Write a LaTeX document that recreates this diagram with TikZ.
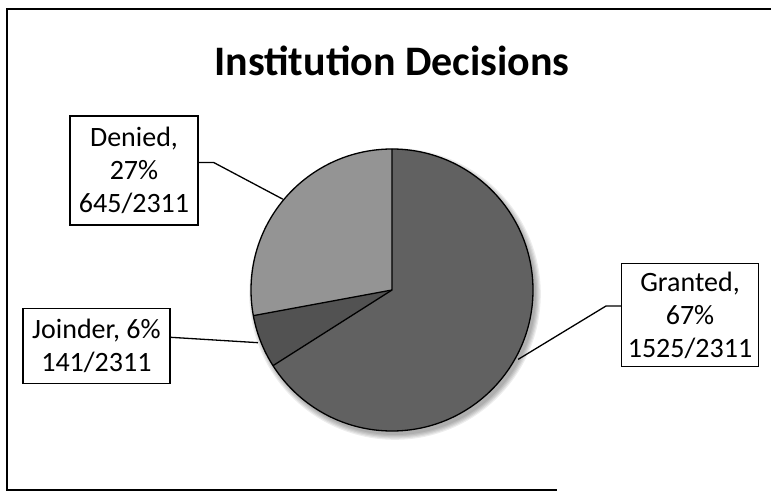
\documentclass[tikz,border=0pt]{standalone}
\usepackage{fontspec}
\setmainfont{Carlito}
\usetikzlibrary{calc}
\definecolor{granted}{gray}{0.38}
\definecolor{denied}{gray}{0.58}
\definecolor{joinder}{gray}{0.32}
\tikzset{
  frameline/.style={line width=1.8pt, black},
  labelbox/.style={draw, line width=1.4pt, fill=white, align=center, inner sep=1pt,
    font=\fontsize{28}{33}\selectfont},
  leader/.style={line width=1.3pt, black},
  slice/.style={draw=black, line width=1.3pt, line join=round},
}
\begin{document}
\begin{tikzpicture}[x=1pt, y=-1pt]
\useasboundingbox (0,0) rectangle (771,492);
\fill[white] (0,0) rectangle (771,492);
% outer frame (scanned, right side open)
\draw[frameline] (771,9) -- (7,9) -- (7,490) -- (557,490);
% title
\node[anchor=base, font=\fontsize{42}{46}\selectfont\bfseries] (title) at (392,76) {Institution Decisions};
% pie shadow
\foreach \k in {0,2,4,6,8}{
  \fill[black, opacity=0.07] (395,294) circle[radius=141+\k*0.6];
}
% pie
\begin{scope}[shift={(392,290)}, yscale=-1]
  \coordinate (pc) at (0,0);
  \fill[granted] (0,0) -- (90:141) arc[start angle=90, end angle=-147.56, radius=141] -- cycle;
  \fill[denied] (0,0) -- (90:141) arc[start angle=90, end angle=190.48, radius=141] -- cycle;
  \fill[joinder] (0,0) -- (190.48:141) arc[start angle=190.48, end angle=212.44, radius=141] -- cycle;
  \draw[slice] (0,0) circle[radius=141];
  \draw[slice] (90:141) -- (0,0) -- (190.48:141);
  \draw[slice] (0,0) -- (212.44:141);
  \coordinate (pD) at (140.24:142);
  \coordinate (pJ) at (201.46:144);
  \coordinate (pG) at (-28.78:144);
\end{scope}
% labels
\node[labelbox, minimum width=128pt, minimum height=109pt] (den) at (134,170.5) {Denied,\\27\%\\645/2311};
\node[labelbox, minimum width=147pt, minimum height=75pt] (joi) at (96.4,345.8) {Joinder, 6\%\\141/2311};
\node[labelbox, minimum width=136.6pt, minimum height=103pt] (gra) at (690,315) {Granted,\\67\%\\1525/2311};
% leaders
\draw[leader] ([yshift=8pt]den.east) -- ++(15,0) -- (pD);
\draw[leader] ([yshift=8.5pt]joi.east) -- (pJ);
\draw[leader] ([yshift=9pt]gra.west) -- ++(-15,0) -- (pG);
\end{tikzpicture}
\end{document}
